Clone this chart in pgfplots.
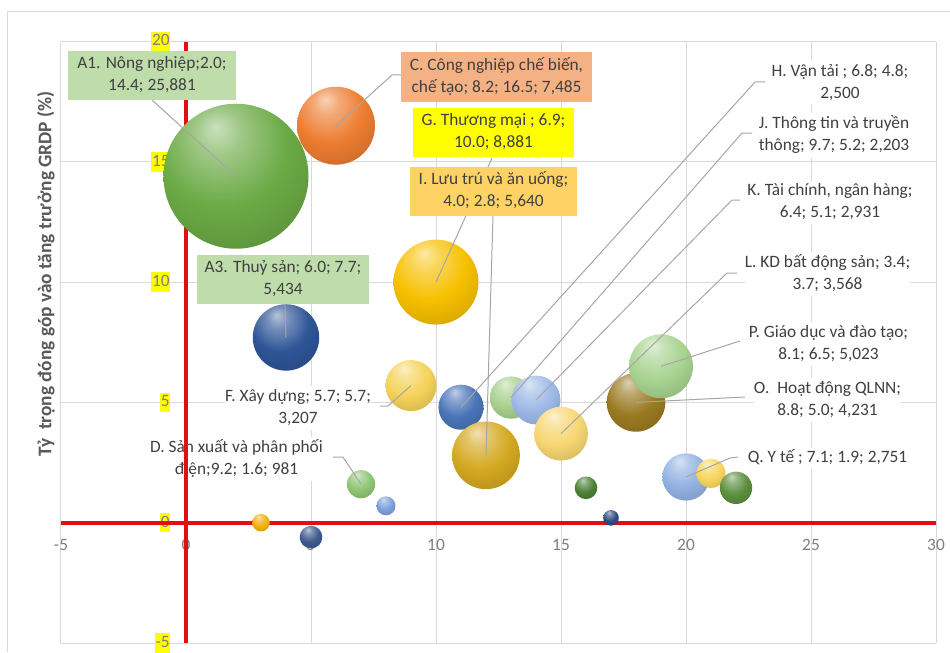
\documentclass[border=0pt]{standalone}
\usepackage{fontspec}
\setmainfont{Carlito}
\usepackage{pgfplots}
\usepackage{pgfplotstable}
\pgfplotsset{compat=1.18}

% text and frame colours
\definecolor{txt}{HTML}{404040}
\definecolor{tickc}{HTML}{7F7F7F}
\definecolor{titlec}{HTML}{595959}
\definecolor{gridc}{HTML}{D9D9D9}
\definecolor{axred}{HTML}{E01010}
\definecolor{leadc}{HTML}{A6A6A6}
\definecolor{boxgreen}{HTML}{BFDCAB}
\definecolor{boxorange}{HTML}{F4B183}
\definecolor{boxyellow}{HTML}{FFFF00}
\definecolor{boxgold}{HTML}{FFD266}

% bubble colours
\definecolor{cA1}{HTML}{6BAA45}
\definecolor{cS3}{HTML}{F4B010}
\definecolor{cA3}{HTML}{2E5597}
\definecolor{cS5}{HTML}{3C5A8C}
\definecolor{cC}{HTML}{ED7D31}
\definecolor{cD}{HTML}{8FC474}
\definecolor{cS8}{HTML}{7BA0DA}
\definecolor{cF}{HTML}{F5D25A}
\definecolor{cG}{HTML}{F7C000}
\definecolor{cH}{HTML}{4A74B8}
\definecolor{cI}{HTML}{D4A820}
\definecolor{cJ}{HTML}{A9D18E}
\definecolor{cK}{HTML}{9DB9E6}
\definecolor{cL}{HTML}{F7D672}
\definecolor{cS16}{HTML}{4A7F35}
\definecolor{cS17}{HTML}{2F4A80}
\definecolor{cO}{HTML}{9A7A22}
\definecolor{cP}{HTML}{A8D490}
\definecolor{cQ}{HTML}{93B2E2}
\definecolor{cS21}{HTML}{F7D65C}
\definecolor{cS22}{HTML}{5C8F3E}

% soft 3-D sphere shading driven by the colour "ballc"
\colorlet{ballc}{gray}
\pgfdeclareradialshading[ballc]{softball}{\pgfpoint{-7bp}{17bp}}{%
  color(0bp)=(ballc!35!white);
  color(8bp)=(ballc!65!white);
  color(22bp)=(ballc);
  color(38bp)=(ballc!85!black);
  color(52bp)=(ballc!62!black);
  color(60bp)=(ballc!56!black);
  color(68bp)=(ballc!78!black)}
\pgfdeclareplotmark{sball}{%
  \pgfpathcircle{\pgfpointorigin}{\pgfplotmarksize}%
  \pgfshadepath{softball}{0}%
  \pgfusepath{}}
\tikzset{bc/.code={\colorlet{ballc}{#1}}}

% x, y (growth share), s (bubble size), c (sector)
\pgfplotstableread{
x  y     s     c
2  14.4  25881 A1
3  0.0   380   S3
4  7.7   5434  A3
5  -0.6  630   S5
6  16.5  7485  C
7  1.6   981   D
8  0.7   444   S8
9  5.7   3207  F
10 10.0  8881  G
11 4.8   2500  H
12 2.8   5640  I
13 5.2   2203  J
14 5.1   2931  K
15 3.7   3568  L
16 1.45  630   S16
17 0.2   300   S17
18 5.0   4231  O
19 6.5   5023  P
20 1.9   2751  Q
21 2.05  1035  S21
22 1.45  1290  S22
}\bubbles

\begin{document}
\begin{tikzpicture}
\begin{scope}[x=0.75pt,y=-0.75pt]
  \useasboundingbox (0,0) rectangle (950,652);
  \draw[gridc, line width=0.75pt] (7,652) -- (7,11.5) -- (950,11.5);
\end{scope}

\begin{axis}[
  at={(45.75pt,-482.25pt)}, anchor=south west,
  scale only axis, width=656.25pt, height=451.125pt,
  xmin=-5, xmax=30, ymin=-5, ymax=20,
  axis lines=middle, axis line style={draw=none},
  xtick={-5,0,...,30}, ytick={-5,0,...,20},
  major tick length=0pt,
  grid=major, grid style={gridc, line width=0.75pt},
  hide obscured x ticks=false, hide obscured y ticks=false,
  /pgf/number format/assume math mode=true,
  tick label style={font=\fontsize{13}{15}\selectfont, text=tickc},
  xticklabel style={anchor=north, yshift=-9pt},
  yticklabel style={anchor=east, xshift=-11.5pt, fill=boxyellow,
    inner xsep=0.5pt, inner ysep=0.8pt, text height=9.8pt, text depth=3.2pt},
  clip=false,
]
% red reference lines through the origin
\addplot[axred, line width=3pt, no marks] coordinates {(-5,0) (30,0)};
\addplot[axred, line width=3pt, no marks] coordinates {(0,-5) (0,20)};

% bubbles: area proportional to size
\addplot[scatter, only marks, mark=sball, point meta=explicit symbolic,
  scatter/classes={
    A1={bc=cA1}, S3={bc=cS3}, A3={bc=cA3}, S5={bc=cS5}, C={bc=cC},
    D={bc=cD}, S8={bc=cS8}, F={bc=cF}, G={bc=cG}, H={bc=cH}, I={bc=cI},
    J={bc=cJ}, K={bc=cK}, L={bc=cL}, S16={bc=cS16}, S17={bc=cS17},
    O={bc=cO}, P={bc=cP}, Q={bc=cQ}, S21={bc=cS21}, S22={bc=cS22}},
  visualization depends on={0.338*sqrt(\thisrow{s}) \as \rad},
  scatter/@pre marker code/.append style={/tikz/mark size=\rad pt, /tikz/opacity=0.9}]
  table[x=x, y=y, meta=c] \bubbles;

\coordinate (bA1) at (axis cs:2,14.4);
\coordinate (bA3) at (axis cs:4,7.7);
\coordinate (bC)  at (axis cs:6,16.5);
\coordinate (bD)  at (axis cs:7,1.6);
\coordinate (bF)  at (axis cs:9,5.7);
\coordinate (bG)  at (axis cs:10,10.0);
\coordinate (bH)  at (axis cs:11,4.8);
\coordinate (bI)  at (axis cs:12,2.8);
\coordinate (bJ)  at (axis cs:13,5.2);
\coordinate (bK)  at (axis cs:14,5.1);
\coordinate (bL)  at (axis cs:15,3.7);
\coordinate (bO)  at (axis cs:18,5.0);
\coordinate (bP)  at (axis cs:19,6.5);
\coordinate (bQ)  at (axis cs:20,1.9);
\coordinate (r1)  at (axis cs:0,1.5);
\coordinate (r2)  at (axis cs:0,3.9);
\end{axis}

\begin{scope}[x=0.75pt,y=-0.75pt,
  lab/.style={font=\fontsize{13}{16.5}\selectfont, text=txt, align=center, inner sep=0pt},
  ld/.style={leadc, line width=0.75pt}]
  % leader lines
  \draw[ld] (152,100) -- (bA1);
  \draw[ld] (401,75) -- (392,75) -- (bC);
  \draw[ld] (492,158) -- (bG);
  \draw[ld] (493,216) -- (bI);
  \draw[ld] (285,304) -- (bA3);
  \draw[ld] (765,82) -- (755,82) -- (bH);
  \draw[ld] (752,133) -- (742,133) -- (bJ);
  \draw[ld] (740,200) -- (732,200) -- (bK);
  \draw[ld] (737,273) -- (727,273) -- (bL);
  \draw[ld] (740,341) -- (bP);
  \draw[ld] (745,397) -- (bO);
  \draw[ld] (738,457) -- (730,458) -- (bQ);
  \draw[ld] (380,406) -- (388,406) -- (bF);
  \draw[ld] (333,457) -- (343,457) -- (bD);

  % boxed labels
  \node[lab, fill=boxgreen, minimum width=126pt, minimum height=36.75pt] at (152,75.5)
    {\strut A1. Nông nghiệp;2.0;\\\strut 14.4; 25,881};
  \node[lab, fill=boxorange, minimum width=143.25pt, minimum height=37.5pt] at (496.5,77)
    {\strut C. Công nghiệp chế biến,\\\strut chế tạo; 8.2; 16.5; 7,485};
  \node[lab, fill=boxyellow, minimum width=120.75pt, minimum height=36.75pt] at (493.5,132.5)
    {\strut G. Thương mại ; 6.9;\\\strut 10.0; 8,881};
  \node[lab, fill=boxgold, minimum width=125.25pt, minimum height=36.75pt] at (493.5,191.5)
    {\strut I. Lưu trú và ăn uống;\\\strut 4.0; 2.8; 5,640};
  \node[lab, fill=boxgreen, minimum width=129pt, minimum height=36.75pt] at (283,279.5)
    {\strut A3. Thuỷ sản; 6.0; 7.7;\\\strut 5,434};

  % plain labels
  \node[lab, fill=white] at (840,83.5) {\strut H. Vận tải ; 6.8; 4.8;\\\strut 2,500};
  \node[lab, fill=white] at (834,135.5) {\strut J. Thông tin và truyền\\\strut thông; 9.7; 5.2; 2,203};
  \node[lab, fill=white] at (830,202.5) {\strut K. Tài chính, ngân hàng;\\\strut 6.4; 5.1; 2,931};
  \node[lab, fill=white] at (827.5,274) {\strut L. KD bất động sản; 3.4;\\\strut 3.7; 3,568};
  \node[lab, fill=white] at (828.5,344) {\strut P. Giáo dục và đào tạo;\\\strut 8.1; 6.5; 5,023};
  \node[lab, fill=white] at (827.5,400) {\strut O.\ \ Hoạt động QLNN;\\\strut 8.8; 5.0; 4,231};
  \node[lab, fill=white] at (827.5,457.7) {\strut Q. Y tế ; 7.1; 1.9; 2,751};
  \node[lab, fill=white] at (298,408) {\strut F. Xây dựng; 5.7; 5.7;\\\strut 3,207};
  \node[lab, fill=white] at (236.5,459.3) {\strut D. Sản xuất và phân phối\\\strut điện;9.2; 1.6; 981};
  \draw[axred, line width=3pt] (r1) -- (r2);

  % vertical axis title
  \node[rotate=90, font=\bfseries\fontsize{14.5}{16}\selectfont, text=titlec] at (46,274)
    {Tỷ\ \ trọng đóng góp vào tăng trưởng GRDP (\%)};
\end{scope}
\end{tikzpicture}
\end{document}
